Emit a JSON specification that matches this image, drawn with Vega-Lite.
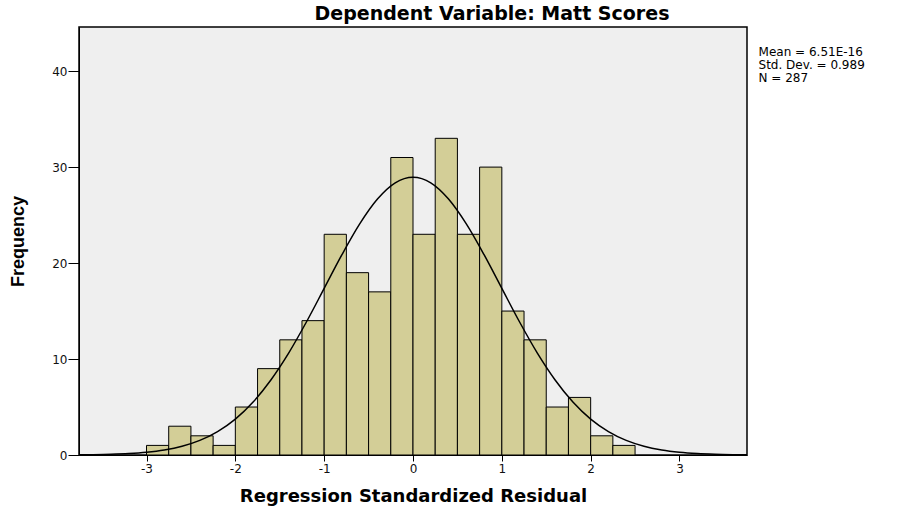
{
  "$schema": "https://vega.github.io/schema/vega-lite/v6.json",
  "width": 668,
  "height": 428,
  "autosize": {"type": "none"},
  "padding": {"left": 79, "top": 27, "right": 150, "bottom": 55},
  "background": "white",
  "config": {
    "font": "DejaVu Sans",
    "view": {"fill": "#efefef", "stroke": "#000000", "strokeWidth": 1.5},
    "axis": {"grid": false, "domainColor": "#000000", "tickColor": "#000000", "labelColor": "#111111", "labelFont": "DejaVu Sans", "labelFontSize": 12, "titleFont": "DejaVu Sans", "titleFontWeight": "bold", "titleFontSize": 18, "titleColor": "#000000"}
  },
  "title": {"text": "Dependent Variable: Matt Scores", "fontSize": 19, "fontWeight": "bold", "font": "DejaVu Sans", "color": "#000000", "anchor": "middle", "frame": "group", "dx": 79, "offset": 3},
  "datasets": {
    "bins": [
      {"start": -3.0, "end": -2.75, "count": 1},
      {"start": -2.75, "end": -2.5, "count": 3},
      {"start": -2.5, "end": -2.25, "count": 2},
      {"start": -2.25, "end": -2.0, "count": 1},
      {"start": -2.0, "end": -1.75, "count": 5},
      {"start": -1.75, "end": -1.5, "count": 9},
      {"start": -1.5, "end": -1.25, "count": 12},
      {"start": -1.25, "end": -1.0, "count": 14},
      {"start": -1.0, "end": -0.75, "count": 23},
      {"start": -0.75, "end": -0.5, "count": 19},
      {"start": -0.5, "end": -0.25, "count": 17},
      {"start": -0.25, "end": 0.0, "count": 31},
      {"start": 0.0, "end": 0.25, "count": 23},
      {"start": 0.25, "end": 0.5, "count": 33},
      {"start": 0.5, "end": 0.75, "count": 23},
      {"start": 0.75, "end": 1.0, "count": 30},
      {"start": 1.0, "end": 1.25, "count": 15},
      {"start": 1.25, "end": 1.5, "count": 12},
      {"start": 1.5, "end": 1.75, "count": 5},
      {"start": 1.75, "end": 2.0, "count": 6},
      {"start": 2.0, "end": 2.25, "count": 2},
      {"start": 2.25, "end": 2.5, "count": 1}
    ],
    "curve": [
      {"x": -3.76, "y": 0.02},
      {"x": -3.6, "y": 0.038},
      {"x": -3.4, "y": 0.078},
      {"x": -3.2, "y": 0.154},
      {"x": -3.0, "y": 0.291},
      {"x": -2.8, "y": 0.526},
      {"x": -2.6, "y": 0.913},
      {"x": -2.4, "y": 1.52},
      {"x": -2.2, "y": 2.44},
      {"x": -2.0, "y": 3.74},
      {"x": -1.8, "y": 5.52},
      {"x": -1.6, "y": 7.82},
      {"x": -1.4, "y": 10.62},
      {"x": -1.2, "y": 13.86},
      {"x": -1.0, "y": 17.36},
      {"x": -0.8, "y": 20.87},
      {"x": -0.6, "y": 24.08},
      {"x": -0.4, "y": 26.67},
      {"x": -0.2, "y": 28.36},
      {"x": 0.0, "y": 28.94},
      {"x": 0.2, "y": 28.36},
      {"x": 0.4, "y": 26.67},
      {"x": 0.6, "y": 24.08},
      {"x": 0.8, "y": 20.87},
      {"x": 1.0, "y": 17.36},
      {"x": 1.2, "y": 13.86},
      {"x": 1.4, "y": 10.62},
      {"x": 1.6, "y": 7.82},
      {"x": 1.8, "y": 5.52},
      {"x": 2.0, "y": 3.74},
      {"x": 2.2, "y": 2.44},
      {"x": 2.4, "y": 1.52},
      {"x": 2.6, "y": 0.913},
      {"x": 2.8, "y": 0.526},
      {"x": 3.0, "y": 0.291},
      {"x": 3.2, "y": 0.154},
      {"x": 3.4, "y": 0.078},
      {"x": 3.6, "y": 0.038},
      {"x": 3.76, "y": 0.02}
    ]
  },
  "layer": [
    {
      "data": {"name": "bins"},
      "mark": {"type": "rect", "fill": "#d3ce97", "stroke": "#000000", "strokeWidth": 1},
      "encoding": {
        "x": {"field": "start", "type": "quantitative",
              "scale": {"domain": [-3.76, 3.76], "nice": false, "zero": false},
              "axis": {"title": "Regression Standardized Residual", "values": [-3, -2, -1, 0, 1, 2, 3], "labelExpr": "datum.value < 0 ? '-' + abs(datum.value) : '' + datum.value", "tickSize": 6, "labelPadding": 2, "titlePadding": 13}},
        "x2": {"field": "end"},
        "y": {"field": "count", "type": "quantitative",
              "scale": {"domain": [0, 44.6], "nice": false},
              "axis": {"title": "Frequency", "titleFont": "Liberation Sans", "titleFontSize": 18, "values": [0, 10, 20, 30, 40], "tickSize": 11, "labelPadding": 1, "titlePadding": 24}},
        "y2": {"datum": 0}
      }
    },
    {
      "data": {"name": "curve"},
      "mark": {"type": "line", "color": "#000000", "strokeWidth": 1.5, "interpolate": "monotone", "clip": true},
      "encoding": {
        "x": {"field": "x", "type": "quantitative"},
        "y": {"field": "y", "type": "quantitative"}
      }
    },
    {
      "data": {"values": [{}]},
      "mark": {"type": "text", "align": "left", "baseline": "top", "fontSize": 12, "lineHeight": 13, "font": "DejaVu Sans", "color": "#000000", "clip": false},
      "encoding": {
        "x": {"datum": 3.89},
        "y": {"datum": 42.5},
        "text": {"value": ["Mean = 6.51E-16", "Std. Dev. = 0.989", "N = 287"]}
      }
    }
  ]
}
